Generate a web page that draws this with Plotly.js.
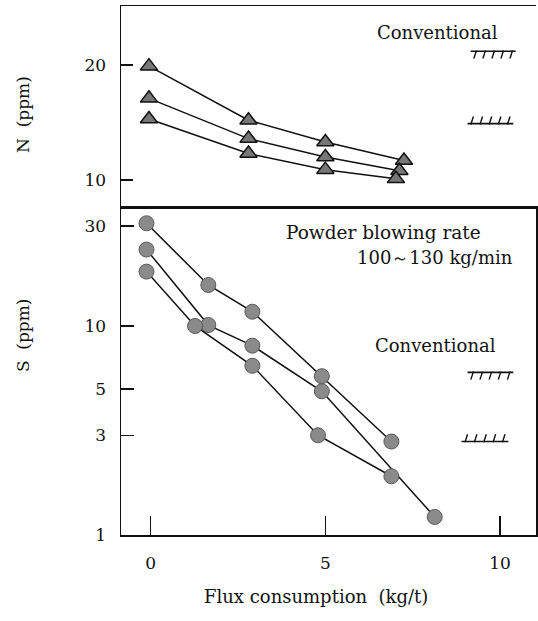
<!DOCTYPE html>
<html>
<head>
<meta charset="utf-8">
<script src="https://cdn.plot.ly/plotly-3.0.1.min.js"></script>
<style>html,body{margin:0;padding:0;background:#fff;}#chart{width:538px;height:621px;}</style>
</head>
<body>
<div id="chart"></div>
<script>
// ---- data ----
// N panel (triangles), flux consumption kg/t vs N ppm
const nFlux1 = [-0.05, 2.8, 5.0, 7.25];
const nVal1  = [19.9, 15.2, 13.3, 11.7];
const nFlux2 = [-0.05, 2.8, 5.0, 7.12];
const nVal2  = [17.1, 13.6, 12.0, 10.8];
const nFlux3 = [-0.05, 2.8, 5.0, 7.02];
const nVal3  = [15.3, 12.3, 10.9, 10.1];
// S panel (circles)
const sFlux1 = [-0.12, 1.65, 2.91, 4.9, 6.89];
const sVal1  = [31, 15.7, 11.7, 5.75, 2.8];
const sFlux2 = [-0.12, 1.65, 2.91, 4.9, 8.13];
const sVal2  = [23.2, 10.1, 8.05, 4.87, 1.22];
const sFlux3 = [-0.12, 1.27, 2.91, 4.79, 6.89];
const sVal3  = [18.2, 10.0, 6.45, 3.0, 1.91];
// conventional levels [upper, lower]
const convN = [21.2, 14.9];
const convS = [6.0, 2.8];
// tick labels
const nTicks = [10, 20];
const sTicks = [1, 3, 5, 10, 30];
const xTicks = [0, 5, 10];

const FONT = 'DejaVu Serif, Liberation Serif, serif';
const traces = [];
function series(x, y, xa, ya, sym, size, fill, edge, ew) {
  traces.push({x: x, y: y, xaxis: xa, yaxis: ya, type: 'scatter', mode: 'lines+markers',
    line: {color: '#111', width: 1.5},
    marker: {symbol: sym, size: size, color: fill, line: {color: edge, width: ew}},
    showlegend: false, hoverinfo: 'skip', cliponaxis: false});
}
series(nFlux1, nVal1, 'x2', 'y2', 'triangle-up', 15, '#777777', '#111', 1.5);
series(nFlux2, nVal2, 'x2', 'y2', 'triangle-up', 15, '#777777', '#111', 1.5);
series(nFlux3, nVal3, 'x2', 'y2', 'triangle-up', 15, '#777777', '#111', 1.5);
series(sFlux1, sVal1, 'x', 'y', 'circle', 15, '#8a8a8a', '#5a5a5a', 1);
series(sFlux2, sVal2, 'x', 'y', 'circle', 15, '#8a8a8a', '#5a5a5a', 1);
series(sFlux3, sVal3, 'x', 'y', 'circle', 15, '#8a8a8a', '#5a5a5a', 1);

// hatched "conventional" limit marks: a bar with five short slanted strokes
function hatch(x0, x1, level, tickLevel, xa, ya) {
  traces.push({x: [x0, x1], y: [level, level], xaxis: xa, yaxis: ya, type: 'scatter', mode: 'lines',
    line: {color: '#111', width: 1.6}, showlegend: false, hoverinfo: 'skip'});
  const hx = [], hy = [];
  const n = 5, step = (x1 - x0) / n;
  for (let i = 0; i < n; i++) { hx.push(x0 + step * (i + 0.5)); hy.push(tickLevel); }
  traces.push({x: hx, y: hy, xaxis: xa, yaxis: ya, type: 'scatter', mode: 'markers',
    marker: {symbol: 'line-ns', size: 6, angle: 18, line: {color: '#111', width: 1.4}},
    showlegend: false, hoverinfo: 'skip'});
}
hatch(9.16, 10.45, convN[0], convN[0] - 0.28, 'x2', 'y2');
hatch(9.07, 10.38, convN[1], convN[1] + 0.28, 'x2', 'y2');
hatch(9.07, 10.38, convS[0], convS[0] / 1.037, 'x', 'y');
hatch(8.9, 10.24, convS[1], convS[1] * 1.037, 'x', 'y');

const axLine = {showline: true, linecolor: '#111', linewidth: 1.5, showgrid: false, zeroline: false};
const tickFont = {family: FONT, size: 17, color: '#111'};
const layout = {
  width: 538, height: 621,
  margin: {l: 121, r: 1.5, t: 6, b: 86},
  paper_bgcolor: '#fff', plot_bgcolor: '#fff',
  font: {family: FONT, color: '#111'},
  xaxis: Object.assign({}, axLine, {domain: [0, 1], range: [-0.85, 11.03], mirror: true,
    tickvals: xTicks, ticks: 'inside', ticklen: 19, tickwidth: 1.5, tickcolor: '#111',
    tickfont: tickFont, ticklabelstandoff: 12, anchor: 'y'}),
  yaxis: Object.assign({}, axLine, {domain: [0, 0.62], type: 'log', range: [0, 1.569], mirror: true,
    tickvals: sTicks, ticktext: sTicks.map(String), ticks: 'inside', ticklen: 13, tickwidth: 1.5,
    tickcolor: '#111', tickfont: tickFont, ticklabelstandoff: 10, anchor: 'x'}),
  xaxis2: Object.assign({}, axLine, {domain: [0, 1], range: [-0.85, 11.03], mirror: true,
    showticklabels: false, ticks: '', anchor: 'y2', matches: 'x'}),
  yaxis2: Object.assign({}, axLine, {domain: [0.62, 1], range: [7.65, 25.13], mirror: false,
    tickvals: nTicks, ticks: 'inside', ticklen: 12, tickwidth: 1.5, tickcolor: '#111',
    tickfont: tickFont, ticklabelstandoff: 10, anchor: 'x2'}),
  annotations: [
    {text: 'Conventional', xref: 'paper', yref: 'paper', x: 0.914, y: 0.949, xanchor: 'right', yanchor: 'middle',
      showarrow: false, font: {family: FONT, size: 18, color: '#111'}},
    {text: 'Powder blowing rate', xref: 'paper', yref: 'paper', x: 0.392, y: 0.571, xanchor: 'left', yanchor: 'middle',
      showarrow: false, font: {family: FONT, size: 18.5, color: '#111'}},
    {text: '100～130 kg/min', xref: 'paper', yref: 'paper', x: 0.95, y: 0.5255, xanchor: 'right', yanchor: 'middle',
      showarrow: false, font: {family: FONT, size: 18, color: '#111'}},
    {text: 'Conventional', xref: 'paper', yref: 'paper', x: 0.909, y: 0.359, xanchor: 'right', yanchor: 'middle',
      showarrow: false, font: {family: FONT, size: 18, color: '#111'}},
    {text: 'Flux consumption  (kg/t)', xref: 'paper', yref: 'paper', x: 0.471, y: -0.117, xanchor: 'center', yanchor: 'middle',
      showarrow: false, font: {family: FONT, size: 18, color: '#111'}},
    {text: 'N  (ppm)', xref: 'paper', yref: 'paper', x: -0.236, y: 0.794, xanchor: 'center', yanchor: 'middle',
      textangle: -90, showarrow: false, font: {family: FONT, size: 17, color: '#111'}},
    {text: 'S  (ppm)', xref: 'paper', yref: 'paper', x: -0.236, y: 0.378, xanchor: 'center', yanchor: 'middle',
      textangle: -90, showarrow: false, font: {family: FONT, size: 17, color: '#111'}}
  ]
};
Plotly.newPlot('chart', traces, layout, {displayModeBar: false, staticPlot: true});
</script>
</body>
</html>
